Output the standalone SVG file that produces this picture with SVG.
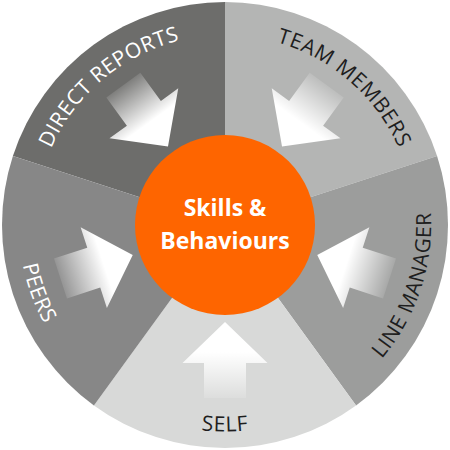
<svg xmlns="http://www.w3.org/2000/svg" width="450" height="450" viewBox="0 0 450 450">
<style>
.lbl{font-family:"Open Sans","Noto Sans",sans-serif;font-size:21px;font-weight:normal;letter-spacing:0.6px}
.w{fill:#ffffff}
.d{fill:#1e1e1e}
.ctr{font-family:"Open Sans","Noto Sans",sans-serif;font-size:23px;font-weight:bold;fill:#ffffff;text-anchor:middle}
.arrow{fill:url(#ag)}
</style>
<defs>
<linearGradient id="ag" gradientUnits="userSpaceOnUse" x1="0" y1="173" x2="0" y2="97">
<stop offset="0" stop-color="#ffffff" stop-opacity="0.12"/>
<stop offset="0.5" stop-color="#ffffff" stop-opacity="0.85"/>
<stop offset="0.6" stop-color="#ffffff" stop-opacity="1"/>
<stop offset="1" stop-color="#ffffff" stop-opacity="1"/>
</linearGradient>
<path id="arrowShape" d="M0,97 L42.5,138 L21,138 L21,173 L-21,173 L-21,138 L-42.5,138 Z"/>
<path id="tpDR" d="M37.89,257.99 A190,190 0 0 1 289.98,46.46"/>
<path id="tpTM" d="M163.14,45.35 A190,190 0 0 1 411.51,261.25"/>
<path id="tpLM" d="M266.27,427.84 A208,208 0 0 0 380.03,87.84"/>
<path id="tpSE" d="M45.73,329 A208,208 0 0 0 404.27,329"/>
<path id="tpPE" d="M66.43,91.94 A208,208 0 0 0 189.05,428.86"/>
</defs>

<g id="direct-reports">
<path d="M225,225 L12.91,156.09 A223,223 0 0 1 225,2 Z" fill="#6d6d6b"/>
<use href="#arrowShape" class="arrow" transform="translate(225,225) rotate(144)"/>
<text class="lbl w"><textPath href="#tpDR" startOffset="50%" text-anchor="middle">DIRECT REPORTS</textPath></text>
</g>
<g id="team-members">
<path d="M225,225 L225,2 A223,223 0 0 1 437.09,156.09 Z" fill="#b4b5b4"/>
<use href="#arrowShape" class="arrow" transform="translate(225,225) rotate(-144)"/>
<text class="lbl d"><textPath href="#tpTM" startOffset="50%" text-anchor="middle">TEAM MEMBERS</textPath></text>
</g>
<g id="line-manager">
<path d="M225,225 L437.09,156.09 A223,223 0 0 1 356.08,405.41 Z" fill="#9c9d9c"/>
<use href="#arrowShape" class="arrow" transform="translate(225,225) rotate(-72)"/>
<text class="lbl d"><textPath href="#tpLM" startOffset="50%" text-anchor="middle">LINE MANAGER</textPath></text>
</g>
<g id="self">
<path d="M225,225 L356.08,405.41 A223,223 0 0 1 93.92,405.41 Z" fill="#d8d9d8"/>
<use href="#arrowShape" class="arrow" transform="translate(225,225)"/>
<text class="lbl d"><textPath href="#tpSE" startOffset="50%" text-anchor="middle">SELF</textPath></text>
</g>
<g id="peers">
<path d="M225,225 L93.92,405.41 A223,223 0 0 1 12.91,156.09 Z" fill="#878787"/>
<use href="#arrowShape" class="arrow" transform="translate(225,225) rotate(72)"/>
<text class="lbl w"><textPath href="#tpPE" startOffset="50%" text-anchor="middle">PEERS</textPath></text>
</g>
<g id="connectors"></g>
<g id="skills-behaviours">
<circle cx="225" cy="225" r="90" fill="#fe6500"/>
<text class="ctr" x="225" y="216">Skills &amp;</text>
<text class="ctr" x="225" y="249">Behaviours</text>
</g>
</svg>
